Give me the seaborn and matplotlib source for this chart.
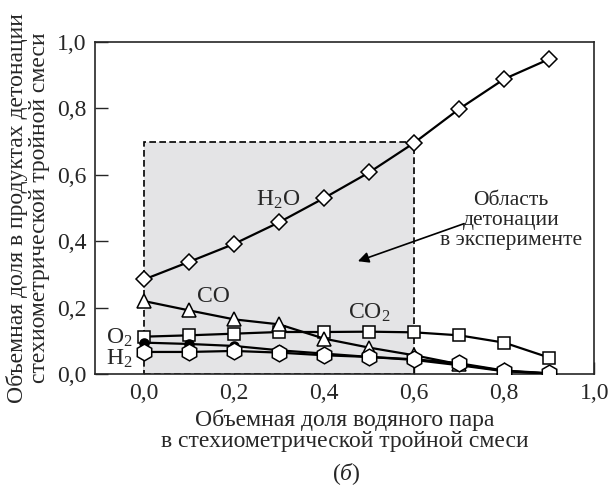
import matplotlib
matplotlib.use("Agg")
import matplotlib.pyplot as plt
import seaborn as sns
import pandas as pd
from matplotlib.patches import Rectangle

x = [0.0, 0.1, 0.2, 0.3, 0.4, 0.5, 0.6, 0.7, 0.8, 0.9]
h2o = [0.285, 0.338, 0.392, 0.457, 0.530, 0.607, 0.696, 0.798, 0.888, 0.948]
co = [0.220, 0.192, 0.165, 0.150, 0.107, 0.080, 0.057, 0.030, 0.010, 0.002]
co2 = [0.113, 0.117, 0.122, 0.127, 0.127, 0.128, 0.126, 0.117, 0.095, 0.050]
o2 = [0.095, 0.091, 0.085, 0.072, 0.062, 0.052, 0.043, 0.027, 0.009, 0.002]
h2 = [0.067, 0.067, 0.070, 0.065, 0.057, 0.052, 0.045, 0.033, 0.011, 0.003]

xticks = [0.0, 0.2, 0.4, 0.6, 0.8, 1.0]
yticks = [0.0, 0.2, 0.4, 0.6, 0.8, 1.0]

sns.set_style("ticks")
plt.rcParams['font.family'] = ['Liberation Serif', 'DejaVu Serif']
plt.rcParams['mathtext.fontset'] = 'custom'
plt.rcParams['mathtext.rm'] = 'Liberation Serif'
plt.rcParams['mathtext.it'] = 'Liberation Serif:italic'

fig = plt.figure(figsize=(6.11, 4.86), dpi=100)
ax = fig.add_axes([0.1555, 0.23, 0.817, 0.684])

ax.add_patch(Rectangle((0, 0), 0.6, 0.7, facecolor='#e4e4e6', edgecolor='black',
                       linestyle=(0, (4, 2)), linewidth=1.2, zorder=1))

series = [
    (co2, 's', 8, 'white'),
    (co, '^', 10, 'white'),
    (o2, 'o', 6.5, 'black'),
    (h2, 'h', 12, 'white'),
    (h2o, 'D', 8.5, 'white'),
]
for ys, m, ms, fc in series:
    df = pd.DataFrame({'x': x, 'y': ys})
    sns.lineplot(data=df, x='x', y='y', ax=ax, color='black', linewidth=1.6,
                 marker=m, markersize=ms, markerfacecolor=fc, markeredgecolor='black',
                 markeredgewidth=1.1, zorder=3)

fs = 17
ax.text(0.298, 0.525, r'H$_2$O', fontsize=fs, ha='center', va='center', zorder=5)
ax.text(0.153, 0.235, 'CO', fontsize=fs, ha='center', va='center', zorder=5)
ax.text(0.5, 0.186, r'CO$_2$', fontsize=fs, ha='center', va='center', zorder=5)
ax.text(-0.055, 0.11, r'O$_2$', fontsize=fs, ha='center', va='center', zorder=5)
ax.text(-0.055, 0.047, r'H$_2$', fontsize=fs, ha='center', va='center', zorder=5)
ax.text(0.815, 0.462, 'Область\nдетонации\nв эксперименте', fontsize=15.5,
        ha='center', va='center', linespacing=1.05, zorder=5)
ax.annotate('', xy=(0.475, 0.34), xytext=(0.711, 0.453),
            arrowprops=dict(arrowstyle='-|>', color='black', lw=1.2,
                            shrinkA=0, shrinkB=0, mutation_scale=16), zorder=5)

ax.set_xlim(-0.109, 1.0)
ax.set_ylim(0.0, 1.0)
ax.set_xticks(xticks)
ax.set_yticks(yticks)
ax.set_xticklabels([f"{t:.1f}".replace('.', ',') for t in xticks], fontsize=fs)
ax.set_yticklabels([f"{t:.1f}".replace('.', ',') for t in yticks], fontsize=fs)
ax.tick_params(direction='in', length=9, width=1.0, pad=6)
for s in ax.spines.values():
    s.set_linewidth(1.2)
    s.set_visible(True)
ax.set_xlabel('Объемная доля водяного пара\nв стехиометрической тройной смеси',
              fontsize=fs, linespacing=1.0)
ax.xaxis.set_label_coords(0.5, -0.105)
ax.set_ylabel('Объемная доля в продуктах детонации\nстехиометрической тройной смеси',
              fontsize=fs, linespacing=1.08)
ax.yaxis.set_label_coords(-0.09, 0.5)
fig.text(0.566, 0.025, r'$(б)$', fontsize=fs, ha='center', va='center')

fig.savefig('out.png', dpi=100)
